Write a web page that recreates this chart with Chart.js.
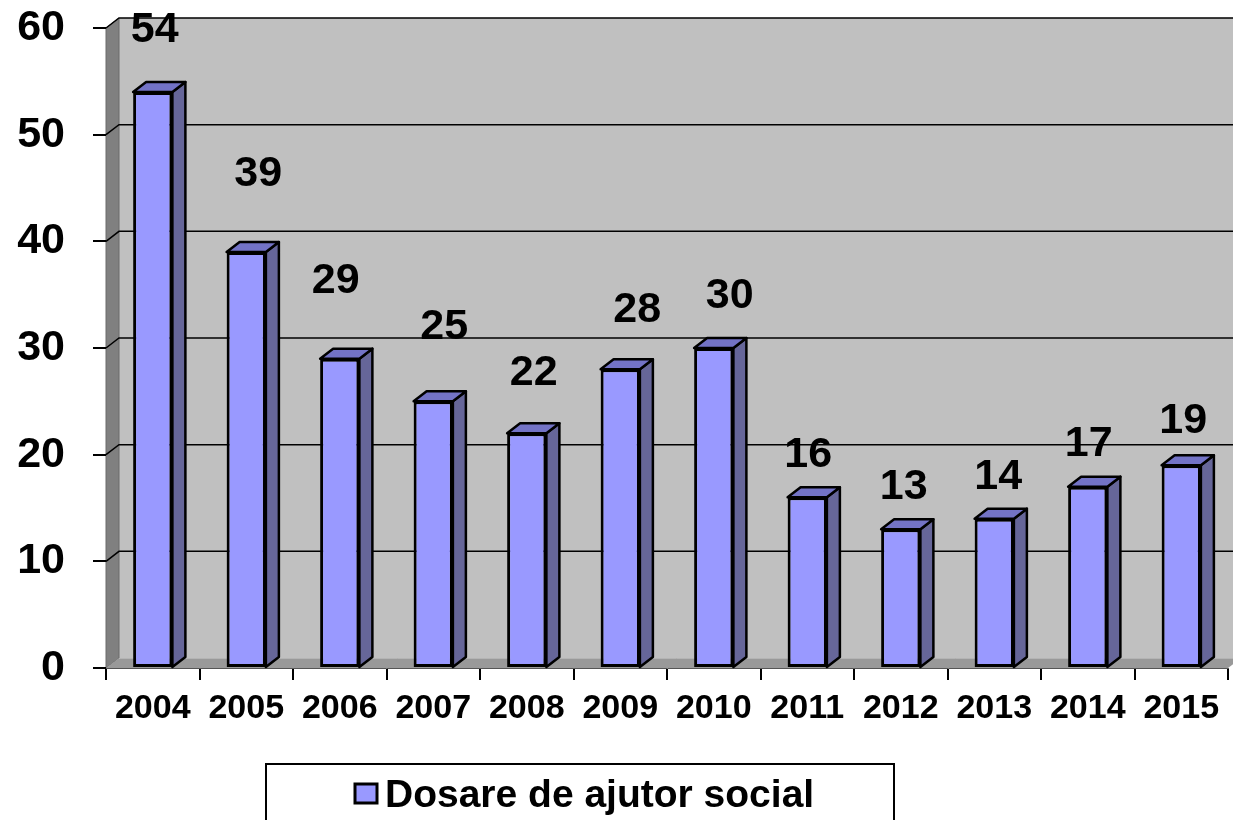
<!DOCTYPE html>
<html>
<head>
<meta charset="utf-8">
<script src="https://cdn.jsdelivr.net/npm/chart.js@4.4.0/dist/chart.umd.min.js"></script>
<style>
  html, body { margin: 0; padding: 0; background: #fff; }
  #chart { display: block; }
</style>
</head>
<body>
<canvas id="chart" width="1233" height="820"></canvas>
<script>
// data
var years = ["2004", "2005", "2006", "2007", "2008", "2009", "2010", "2011", "2012", "2013", "2014", "2015"];
var dosare = [54, 39, 29, 25, 22, 28, 30, 16, 13, 14, 17, 19];
var seriesName = "Dosare de ajutor social";
var yTicks = [0, 10, 20, 30, 40, 50, 60];

var FONT = "'Liberation Sans', Arial, sans-serif";
var DX = 13, DY = -10;   // depth of the fake 3d

// excel puts the value labels in odd places, nudge each relative to its bar
var labelNudge = [[2, -63], [12, -78], [-4, -78], [11, -74], [7, -60], [17, -59],
                  [16, -52], [1, -42], [3, -42], [4, -42], [1, -43], [2, -44]];

function poly(ctx, pts, fill, stroke, lw) {
  ctx.beginPath();
  ctx.moveTo(pts[0][0], pts[0][1]);
  for (var i = 1; i < pts.length; i++) ctx.lineTo(pts[i][0], pts[i][1]);
  ctx.closePath();
  if (fill) { ctx.fillStyle = fill; ctx.fill(); }
  if (stroke) { ctx.strokeStyle = stroke; ctx.lineWidth = lw || 1; ctx.stroke(); }
}

var box3d = {
  id: 'box3d',
  beforeDraw: function(chart) {
    var ctx = chart.ctx, ca = chart.chartArea, y = chart.scales.y;
    ctx.save();
    ctx.fillStyle = '#fff';
    ctx.fillRect(0, 0, chart.width, chart.height);
    // back wall
    ctx.fillStyle = '#C0C0C0';
    ctx.fillRect(ca.left + DX, ca.top + DY, ca.right - ca.left, ca.bottom - ca.top);
    // side wall
    poly(ctx, [[ca.left, ca.top], [ca.left + DX, ca.top + DY], [ca.left + DX, ca.bottom + DY], [ca.left, ca.bottom]], '#808080', '#6a6a6a', 1);
    // floor
    poly(ctx, [[ca.left, ca.bottom], [ca.left + DX, ca.bottom + DY], [ca.right + DX, ca.bottom + DY], [ca.right, ca.bottom]], '#999999', null);
    ctx.strokeStyle = '#b4b4b4';
    ctx.lineWidth = 1;
    ctx.beginPath();
    ctx.moveTo(ca.left + DX, ca.bottom + DY + 0.5);
    ctx.lineTo(ca.right + DX, ca.bottom + DY + 0.5);
    ctx.stroke();
    // gridlines on the wall
    ctx.strokeStyle = '#000';
    ctx.lineWidth = 1.5;
    yTicks.forEach(function(v) {
      if (v === 0) return;
      var py = y.getPixelForValue(v);
      ctx.beginPath();
      ctx.moveTo(ca.left, py);
      ctx.lineTo(ca.left + DX, py + DY);
      ctx.lineTo(ca.right + DX + 20, py + DY);
      ctx.stroke();
    });
    ctx.restore();
  },
  afterDatasetsDraw: function(chart) {
    var ctx = chart.ctx;
    var meta = chart.getDatasetMeta(0);
    ctx.save();
    ctx.lineJoin = 'round';
    meta.data.forEach(function(bar, i) {
      var l = bar.x - bar.width / 2, r = bar.x + bar.width / 2, t = bar.y, b = bar.base;
      poly(ctx, [[r, t], [r + DX, t + DY], [r + DX, b + DY], [r, b]], '#666699', '#000', 2.5);
      poly(ctx, [[l, t], [l + DX, t + DY], [r + DX, t + DY], [r, t]], '#7373C6', '#000', 2.5);
    });
    // value labels
    ctx.fillStyle = '#000';
    ctx.font = 'bold 43px ' + FONT;
    ctx.textAlign = 'center';
    ctx.textBaseline = 'middle';
    meta.data.forEach(function(bar, i) {
      var n = labelNudge[i];
      ctx.fillText(String(dosare[i]), bar.x + n[0], Math.max(30, bar.y + n[1]));
    });
    ctx.restore();
  },
  afterDraw: function(chart) {
    var ctx = chart.ctx;
    ctx.save();
    // legend box, runs off the bottom like the original
    ctx.strokeStyle = '#000';
    ctx.lineWidth = 2;
    ctx.strokeRect(266, 764, 628, 80);
    ctx.fillStyle = '#9999FF';
    ctx.fillRect(355, 784, 22, 19);
    ctx.lineWidth = 3;
    ctx.strokeRect(355, 784, 22, 19);
    ctx.fillStyle = '#000';
    ctx.font = 'bold 39px ' + FONT;
    ctx.textAlign = 'left';
    ctx.textBaseline = 'middle';
    ctx.fillText(chart.data.datasets[0].label, 385, 796);
    ctx.restore();
  }
};

var ctx = document.getElementById("chart").getContext('2d');
var config = {
  type: 'bar',
  data: {
    labels: years,
    datasets: [{
      label: seriesName,
      data: dosare,
      backgroundColor: '#9999FF',
      borderColor: '#000',
      borderWidth: 3,
      borderSkipped: false,
      categoryPercentage: 1,
      barPercentage: 0.42
    }]
  },
  options: {
    responsive: false,
    animation: false,
    layout: { padding: { left: 0, right: 5, top: 28, bottom: 92 } },
    plugins: {
      legend: { display: false },
      tooltip: { enabled: false }
    },
    scales: {
      x: {
        grid: { drawOnChartArea: false, drawTicks: true, tickLength: 12, color: '#000', lineWidth: 2, offset: true },
        border: { display: true, color: '#555', width: 1 },
        ticks: { color: '#000', font: { family: FONT, size: 34, weight: 'bold' }, padding: 8, maxRotation: 0, autoSkip: false },
        afterFit: function(s) { s.height = 60; }
      },
      y: {
        min: 0, max: 60,
        grid: { drawOnChartArea: false, drawTicks: true, tickLength: 13, color: '#000', lineWidth: 2 },
        border: { display: false },
        ticks: { stepSize: 10, color: '#000', font: { family: FONT, size: 43, weight: 'bold' }, padding: 28 },
        afterFit: function(s) { s.width = 106; s.paddingTop = 0; s.paddingBottom = 0; }
      }
    }
  },
  plugins: [box3d]
};
var chart = new Chart(ctx, config);
</script>
</body>
</html>
